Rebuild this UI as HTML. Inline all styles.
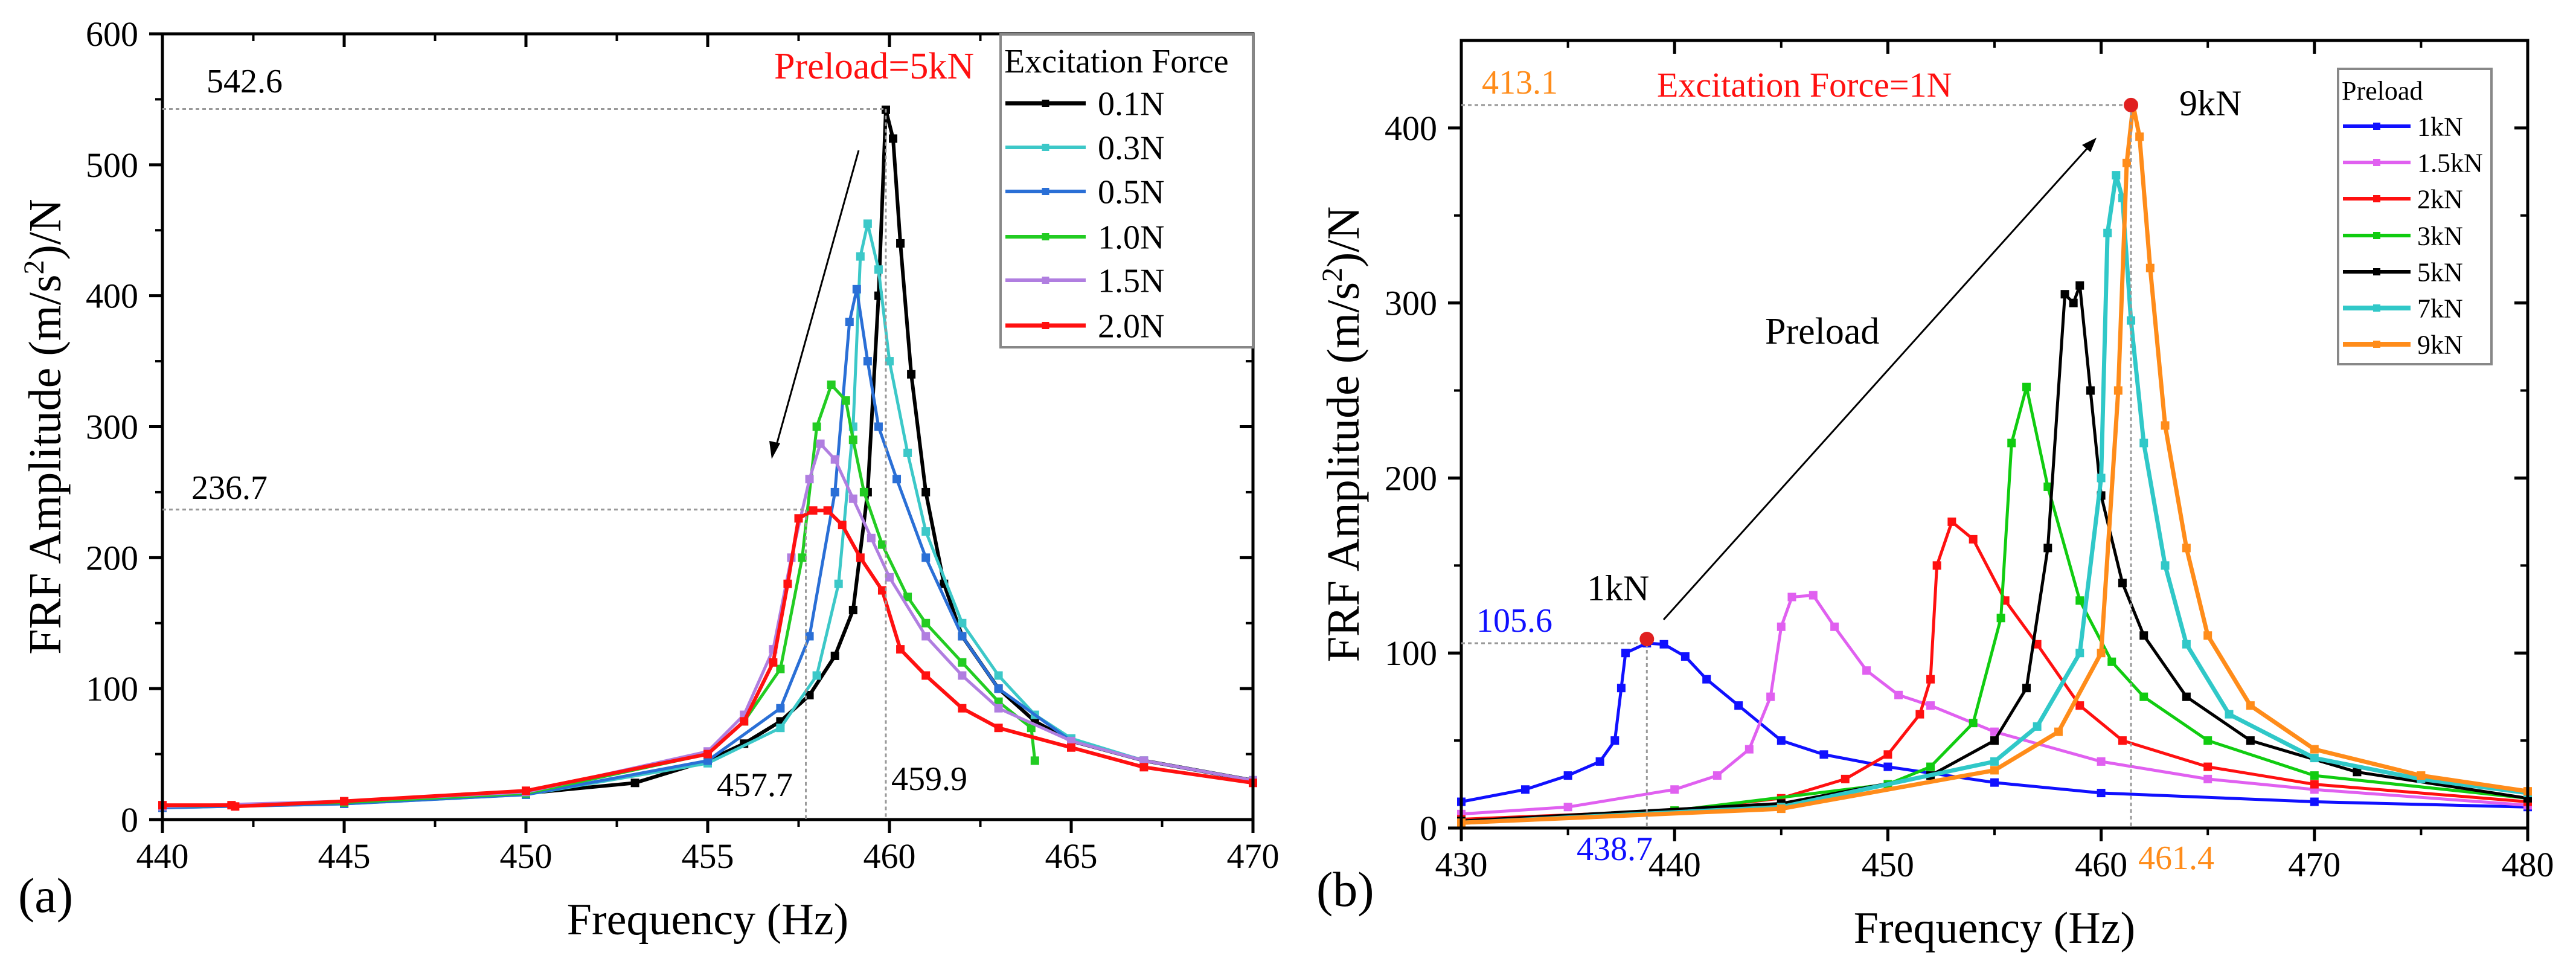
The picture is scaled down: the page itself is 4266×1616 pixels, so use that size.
<!DOCTYPE html>
<html><head><meta charset="utf-8">
<style>
html,body{margin:0;padding:0;background:#fff;}
svg{display:block;font-family:"Liberation Serif",serif;}
</style></head>
<body>
<svg id="fig" width="4266" height="1616" viewBox="0 0 4266 1616" xmlns="http://www.w3.org/2000/svg">
<rect width="4266" height="1616" fill="#fff"/>
<g id="pa"></g>
<g id="pb"></g>
</svg>
<script>
// ---- Panel (a) data ----
const aXTicks = [440,445,450,455,460,465,470];
const aYTicks = [0,100,200,300,400,500,600];
const aNames = ["0.1N","0.3N","0.5N","1.0N","1.5N","2.0N"];
const aColors = ["#000000","#3cc8c8","#2a6fd6","#22cc22","#b07ee0","#ff1010"];
const aF01 = [440,445,450,453,455,456,457,457.8,458.5,459,459.4,459.7,459.9,460.1,460.3,460.6,461,461.5,462,463,464,465,467,470];
const aV01 = [10,13,20,28,45,58,75,95,125,160,250,400,542,520,440,340,250,180,140,100,75,60,45,30];
const aF03 = [440,445,450,455,457,458,458.6,459,459.2,459.4,459.7,460,460.5,461,462,463,464,465,467,470];
const aV03 = [9,12,19,43,70,110,180,300,430,455,420,350,280,220,150,110,80,62,45,30];
const aF05 = [440,445,450,455,457,457.8,458.5,458.9,459.1,459.4,459.7,460.2,461,462,463,465,467,470];
const aV05 = [9,12,19,45,85,140,250,380,405,350,300,260,200,140,100,60,45,30];
const aF10 = [440,445,450,455,456,457,457.6,458,458.4,458.8,459,459.3,459.8,460.5,461,462,463,463.9,464];
const aV10 = [10,13,20,50,75,115,200,300,332,320,290,250,210,170,150,120,90,70,45];
const aF15 = [440,445,450,455,456,456.8,457.3,457.8,458.1,458.5,459,459.5,460,461,462,463,465,467,470];
const aV15 = [10,14,21,52,80,130,200,260,287,275,245,215,185,140,110,85,60,45,30];
const aF20 = [440,441.9,442,445,450,455,456,456.8,457.2,457.5,457.9,458.3,458.7,459.2,459.8,460.3,461,462,463,465,467,470];
const aV20 = [11,11,10,14,22,50,75,120,180,230,236,236,225,200,175,130,110,85,70,55,40,28];

// ---- Panel (b) data ----
const bXTicks = [430,440,450,460,470,480];
const bYTicks = [0,100,200,300,400];
const bNames = ["1kN","1.5kN","2kN","3kN","5kN","7kN","9kN"];
const bColors = ["#1010ff","#e060f0","#ff1010","#10cc10","#000000","#30c8c8","#ff8c1a"];
const bF1 = [430,433,435,436.5,437.2,437.5,437.7,438.7,439.5,440.5,441.5,443,445,447,450,455,460,470,480];
const bV1 = [15,22,30,38,50,80,100,105.6,105,98,85,70,50,42,35,26,20,15,12];
const bF15 = [430,435,440,442,443.5,444.5,445,445.5,446.5,447.5,449,450.5,452,455,460,465,470,480];
const bV15 = [8,12,22,30,45,75,115,132,133,115,90,76,70,55,38,28,22,13];
const bF2 = [430,440,445,448,450,451.5,452,452.3,453,454,455.5,457,459,461,465,470,480];
const bV2 = [5,10,17,28,42,65,85,150,175,165,130,105,70,50,35,25,15];
const bF3 = [430,440,450,452,454,455.3,455.8,456.5,457.5,459,460.5,462,465,470,480];
const bV3 = [4,10,25,35,60,120,220,252,195,130,95,75,50,30,17];
const bF5 = [430,445,452,455,456.5,457.5,458.3,458.7,459,459.5,460,461,462,464,467,472,480];
const bV5 = [4,14,30,50,80,160,305,300,310,250,190,140,110,75,50,32,17];
const bF7 = [430,445,455,457,459,460,460.3,460.7,461,461.4,462,463,464,466,470,475,480];
const bV7 = [3,12,38,58,100,200,340,373,360,290,220,150,105,65,40,28,20];
const bF9 = [430,445,455,458,460,460.8,461.2,461.5,461.8,462.3,463,464,465,467,470,475,480];
const bV9 = [3,11,33,55,100,250,380,413,395,320,230,160,110,70,45,30,21];

const NS="http://www.w3.org/2000/svg";
function mk(tag,attrs,parent){const e=document.createElementNS(NS,tag);for(const k in attrs)e.setAttribute(k,attrs[k]);parent.appendChild(e);return e;}

function panel(g,cfg){
  const sx=v=>cfg.x0+(v-cfg.xmin)/(cfg.xmax-cfg.xmin)*(cfg.x1-cfg.x0);
  const sy=v=>cfg.y1-(v-cfg.ymin)/(cfg.ymax-cfg.ymin)*(cfg.y1-cfg.y0);
  cfg.series.forEach((s,i)=>{
    const pts=s.f.map((f,j)=>sx(f).toFixed(1)+","+sy(s.v[j]).toFixed(1)).join(" ");
    const pl=mk("polyline",{points:pts,fill:"none",stroke:s.c,"stroke-width":s.w||cfg.lw,"stroke-linejoin":"round"},g);
    
    
    s.f.forEach((f,j)=>{
      const m=mk("rect",{x:sx(f)-7,y:sy(s.v[j])-7,width:14,height:14,fill:s.c},g);
      
      
    });
  });
  const fr=mk("rect",{x:cfg.x0,y:cfg.y0,width:cfg.x1-cfg.x0,height:cfg.y1-cfg.y0,fill:"none",stroke:"#000","stroke-width":5},g);
  
  
  cfg.xt.forEach(v=>{
    const x=sx(v);
    mk("line",{x1:x,y1:cfg.y1,x2:x,y2:cfg.y1+22,stroke:"#000","stroke-width":5},g);
    mk("line",{x1:x,y1:cfg.y0,x2:x,y2:cfg.y0+22,stroke:"#000","stroke-width":5},g);
    const t=mk("text",{x:x,y:cfg.y1+80,"font-size":58,"text-anchor":"middle"},g);
    t.textContent=v;
    
    
  });
  for(let v=cfg.xmin+cfg.xminor;v<cfg.xmax;v+=cfg.xminor*2){
    const x=sx(v);
    mk("line",{x1:x,y1:cfg.y1,x2:x,y2:cfg.y1+12,stroke:"#000","stroke-width":4},g);
    mk("line",{x1:x,y1:cfg.y0,x2:x,y2:cfg.y0+12,stroke:"#000","stroke-width":4},g);
  }
  cfg.yt.forEach(v=>{
    const y=sy(v);
    mk("line",{x1:cfg.x0-22,y1:y,x2:cfg.x0,y2:y,stroke:"#000","stroke-width":5},g);
    mk("line",{x1:cfg.x1-22,y1:y,x2:cfg.x1,y2:y,stroke:"#000","stroke-width":5},g);
    const t=mk("text",{x:cfg.x0-40,y:y+20,"font-size":58,"text-anchor":"end"},g);
    t.textContent=v;
    
    
  });
  for(let v=cfg.ymin+cfg.yminor;v<cfg.ymax;v+=cfg.yminor*2){
    const y=sy(v);
    mk("line",{x1:cfg.x0-12,y1:y,x2:cfg.x0,y2:y,stroke:"#000","stroke-width":4},g);
    mk("line",{x1:cfg.x1-12,y1:y,x2:cfg.x1,y2:y,stroke:"#000","stroke-width":4},g);
  }
  const xt=mk("text",{x:(cfg.x0+cfg.x1)/2,y:cfg.y1+190,"font-size":74,"text-anchor":"middle"},g);
  xt.textContent="Frequency (Hz)";
  
  
  const yt=mk("text",{x:0,y:0,"font-size":76,"text-anchor":"middle",transform:`translate(${cfg.ytx},${(cfg.y0+cfg.y1)/2}) rotate(-90)`},g);
  yt.innerHTML='FRF Amplitude (m/s<tspan dy="-28" font-size="48">2</tspan><tspan dy="28">)/N</tspan>';
  
  
  const pl=mk("text",{x:cfg.plx,y:cfg.ply,"font-size":82},g);
  pl.textContent=cfg.pl;
  
  
  const L=cfg.leg;
  const lb=mk("rect",{x:L.x0,y:L.y0,width:L.x1-L.x0,height:L.y1-L.y0,fill:"#fff",stroke:"#888","stroke-width":4},g);
  
  
  const lt=mk("text",{x:L.tx,y:L.ty,"font-size":L.fs},g);
  lt.textContent=L.title;
  
  
  cfg.series.forEach((s,i)=>{
    const y=L.ys[i];
    mk("line",{x1:L.lx0,y1:y,x2:L.lx1,y2:y,stroke:s.c,"stroke-width":(s.w||cfg.lw)+1},g);
    mk("rect",{x:(L.lx0+L.lx1)/2-6,y:y-6,width:12,height:12,fill:s.c},g);
    const t=mk("text",{x:L.tx2,y:y+L.fs*0.35,"font-size":L.fs},g);
    t.textContent=s.n;
    
    
  });
  return {sx,sy};
}

function txt(g,x,y,s,fs,col,name,anchor){
  const t=mk("text",{x:x,y:y,"font-size":fs,fill:col||"#000","text-anchor":anchor||"start"},g);
  t.textContent=s;
  
  
  return t;
}
function dot(g,x1,y1,x2,y2){mk("line",{x1,y1,x2,y2,stroke:"#999","stroke-width":3,"stroke-dasharray":"6,5"},g);}

const ga=document.getElementById('pa');
const A=panel(ga,{x0:269,x1:2075,y0:56,y1:1357,xmin:440,xmax:470,ymin:0,ymax:600,xminor:2.5,yminor:50,lw:5,
  xt:aXTicks,yt:aYTicks,ytx:100,plx:30,ply:1510,pl:"(a)",
  series:[{n:aNames[0],c:aColors[0],f:aF01,v:aV01,w:6},{n:aNames[1],c:aColors[1],f:aF03,v:aV03},{n:aNames[2],c:aColors[2],f:aF05,v:aV05},
          {n:aNames[3],c:aColors[3],f:aF10,v:aV10},{n:aNames[4],c:aColors[4],f:aF15,v:aV15},{n:aNames[5],c:aColors[5],f:aF20,v:aV20,w:6}],
  leg:{x0:1657,x1:2075,y0:57,y1:575,title:"Excitation Force",tx:1663,ty:120,fs:56,ys:[171,244,317,392,464,539],lx0:1665,lx1:1798,tx2:1818}});
dot(ga,269,A.sy(542.6),A.sx(459.9),A.sy(542.6));
dot(ga,269,A.sy(236.7),A.sx(457.7),A.sy(236.7));
dot(ga,A.sx(459.9),A.sy(542.6),A.sx(459.9),1357);
dot(ga,A.sx(457.7),A.sy(236.7),A.sx(457.7),1357);
txt(ga,342,153,"542.6",56,"#000","peak-label-0-1N");
txt(ga,317,826,"236.7",56,"#000","peak-label-2-0N");
txt(ga,1187,1318,"457.7",56,"#000","freq-label-457-7");
txt(ga,1476,1308,"459.9",56,"#000","freq-label-459-9");
txt(ga,1282,130,"Preload=5kN",62,"#ff1010","preload-annotation");
mk("line",{x1:1422,y1:249,x2:1285,y2:740,stroke:"#000","stroke-width":3},ga);
mk("polygon",{points:"1278,760 1274,730 1292,734",fill:"#000"},ga);

const gb=document.getElementById('pb');
const B=panel(gb,{x0:2420,x1:4186,y0:67,y1:1371,xmin:430,xmax:480,ymin:0,ymax:450,xminor:5,yminor:50,lw:5,
  xt:bXTicks,yt:bYTicks,ytx:2250,plx:2180,ply:1500,pl:"(b)",
  series:[{n:bNames[0],c:bColors[0],f:bF1,v:bV1},{n:bNames[1],c:bColors[1],f:bF15,v:bV15},{n:bNames[2],c:bColors[2],f:bF2,v:bV2},
          {n:bNames[3],c:bColors[3],f:bF3,v:bV3},{n:bNames[4],c:bColors[4],f:bF5,v:bV5},{n:bNames[5],c:bColors[5],f:bF7,v:bV7,w:7},{n:bNames[6],c:bColors[6],f:bF9,v:bV9,w:7}],
  leg:{x0:3872,x1:4126,y0:114,y1:603,title:"Preload",tx:3878,ty:165,fs:44,ys:[209,269,329,390,450,510,570],lx0:3880,lx1:3992,tx2:4003}});
dot(gb,2420,B.sy(413.1),B.sx(461.4),B.sy(413.1));
dot(gb,2420,B.sy(105.6),B.sx(438.7),B.sy(105.6));
dot(gb,B.sx(438.7),B.sy(105.6),B.sx(438.7),1371);
dot(gb,B.sx(461.4),B.sy(413.1),B.sx(461.4),1371);
mk("circle",{cx:B.sx(438.7),cy:B.sy(108),r:12,fill:"#e02020"},gb);
mk("circle",{cx:B.sx(461.4),cy:B.sy(413.1),r:12,fill:"#e02020"},gb);
txt(gb,2454,155,"413.1",56,"#ff8c1a","peak-label-9kN");
txt(gb,2744,160,"Excitation Force=1N",58,"#ff1010","excitation-annotation");
txt(gb,3609,191,"9kN",60,"#000","label-9kN");
txt(gb,2923,569,"Preload",62,"#000","preload-arrow-label");
txt(gb,2628,994,"1kN",60,"#000","label-1kN");
txt(gb,2445,1046,"105.6",56,"#1010ff","peak-label-1kN");
txt(gb,2611,1424,"438.7",56,"#1010ff","freq-label-438-7");
txt(gb,3541,1439,"461.4",56,"#ff8c1a","freq-label-461-4");
mk("line",{x1:2755,y1:1026,x2:3458,y2:244,stroke:"#000","stroke-width":3},gb);
mk("polygon",{points:"3472,228 3448,240 3462,252",fill:"#000"},gb);
</script>
</body></html>
